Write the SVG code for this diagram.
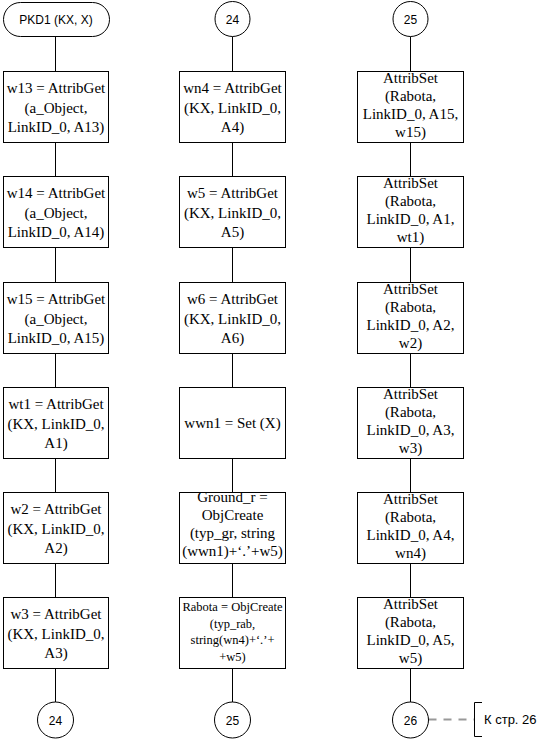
<svg xmlns="http://www.w3.org/2000/svg" width="544" height="740" viewBox="0 0 544 740">
<style>
.b{fill:#fff;stroke:#000;stroke-width:1}
.c{fill:none;stroke:#000;stroke-width:1}
.t{font-family:"Liberation Serif","Times New Roman",serif;font-size:15px;fill:#000;text-anchor:middle}
.s{font-family:"Liberation Serif","Times New Roman",serif;font-size:12.5px;fill:#000;text-anchor:middle}
.a{font-family:"Liberation Sans",Arial,sans-serif;font-size:12px;fill:#000;text-anchor:middle}
.d{fill:none;stroke:#999;stroke-width:2;stroke-dasharray:8 7}
</style>
<rect width="544" height="740" fill="#fff"/>
<g id="connectors">
<path class="c" d="M55.5 36V71.5M55.5 142.5V176.5M55.5 247.5V282.5M55.5 353.5V387.5M55.5 458.5V492.5M55.5 563.5V597.5M55.5 668.5V702"/>
<path class="c" d="M232.5 36.5V71.5M232.5 142.5V176.5M232.5 247.5V282.5M232.5 353.5V387.5M232.5 458.5V492.5M232.5 563.5V597.5M232.5 668.5V702"/>
<path class="c" d="M410.5 36.5V71.5M410.5 142.5V176.5M410.5 247.5V282.5M410.5 353.5V387.5M410.5 458.5V492.5M410.5 563.5V597.5M410.5 668.5V702"/>
<path class="d" d="M428.5 719.5H474"/>
<path class="c" d="M482 702.5H474.5V736.5H482"/>
</g>
<g id="start"><rect class="b" x="3.5" y="2.5" width="106" height="34" rx="17"/><text class="a" x="56" y="23.5">PKD1 (KX, X)</text></g>
<g id="c24top"><circle class="b" cx="232.5" cy="19" r="17.5"/><text class="a" x="232.5" y="23.5">24</text></g>
<g id="c25top"><circle class="b" cx="410.5" cy="19" r="17.5"/><text class="a" x="410.5" y="23.5">25</text></g>

<g id="w13"><rect class="b" x="3.5" y="71.5" width="105" height="71"/><text class="t"><tspan x="56" y="93">w13 = AttribGet</tspan><tspan x="56" y="112.5">(a_Object,</tspan><tspan x="56" y="132">LinkID_0, A13)</tspan></text></g>
<g id="w14"><rect class="b" x="3.5" y="176.5" width="105" height="71"/><text class="t"><tspan x="56" y="198">w14 = AttribGet</tspan><tspan x="56" y="217.5">(a_Object,</tspan><tspan x="56" y="237">LinkID_0, A14)</tspan></text></g>
<g id="w15"><rect class="b" x="3.5" y="282.5" width="105" height="71"/><text class="t"><tspan x="56" y="304">w15 = AttribGet</tspan><tspan x="56" y="323.5">(a_Object,</tspan><tspan x="56" y="343">LinkID_0, A15)</tspan></text></g>
<g id="wt1"><rect class="b" x="3.5" y="387.5" width="105" height="71"/><text class="t"><tspan x="56" y="409">wt1 = AttribGet</tspan><tspan x="56" y="428.5">(KX, LinkID_0,</tspan><tspan x="56" y="448">A1)</tspan></text></g>
<g id="w2"><rect class="b" x="3.5" y="492.5" width="105" height="71"/><text class="t"><tspan x="56" y="514">w2 = AttribGet</tspan><tspan x="56" y="533.5">(KX, LinkID_0,</tspan><tspan x="56" y="553">A2)</tspan></text></g>
<g id="w3"><rect class="b" x="3.5" y="597.5" width="105" height="71"/><text class="t"><tspan x="56" y="619">w3 = AttribGet</tspan><tspan x="56" y="638.5">(KX, LinkID_0,</tspan><tspan x="56" y="658">A3)</tspan></text></g>
<g id="c24bot"><circle class="b" cx="55.5" cy="720" r="18"/><text class="a" x="55.5" y="724.5">24</text></g>

<g id="wn4"><rect class="b" x="179.5" y="71.5" width="106" height="71"/><text class="t"><tspan x="232.5" y="93">wn4 = AttribGet</tspan><tspan x="232.5" y="112.5">(KX, LinkID_0,</tspan><tspan x="232.5" y="132">A4)</tspan></text></g>
<g id="w5"><rect class="b" x="179.5" y="176.5" width="106" height="71"/><text class="t"><tspan x="232.5" y="198">w5 = AttribGet</tspan><tspan x="232.5" y="217.5">(KX, LinkID_0,</tspan><tspan x="232.5" y="237">A5)</tspan></text></g>
<g id="w6"><rect class="b" x="179.5" y="282.5" width="106" height="71"/><text class="t"><tspan x="232.5" y="304">w6 = AttribGet</tspan><tspan x="232.5" y="323.5">(KX, LinkID_0,</tspan><tspan x="232.5" y="343">A6)</tspan></text></g>
<g id="wwn1"><rect class="b" x="179.5" y="387.5" width="106" height="71"/><text class="t" x="232.5" y="428">wwn1 = Set (X)</text></g>
<g id="ground"><rect class="b" x="179.5" y="492.5" width="106" height="71"/><text class="t"><tspan x="232.5" y="502">Ground_r =</tspan><tspan x="232.5" y="520">ObjCreate</tspan><tspan x="232.5" y="538">(typ_gr, string</tspan><tspan x="232.5" y="556">(wwn1)+‘.’+w5)</tspan></text></g>
<g id="rabota"><rect class="b" x="179.5" y="597.5" width="106" height="71"/><text class="s"><tspan x="232.5" y="611">Rabota = ObjCreate</tspan><tspan x="232.5" y="627.5">(typ_rab,</tspan><tspan x="232.5" y="644">string(wn4)+‘.’+</tspan><tspan x="232.5" y="660.5">+w5)</tspan></text></g>
<g id="c25bot"><circle class="b" cx="232.5" cy="720" r="18"/><text class="a" x="232.5" y="724.5">25</text></g>

<g id="set15"><rect class="b" x="357.5" y="71.5" width="106" height="71"/><text class="t"><tspan x="410.5" y="83">AttribSet</tspan><tspan x="410.5" y="101">(Rabota,</tspan><tspan x="410.5" y="119">LinkID_0, A15,</tspan><tspan x="410.5" y="137">w15)</tspan></text></g>
<g id="set1"><rect class="b" x="357.5" y="176.5" width="106" height="71"/><text class="t"><tspan x="410.5" y="188">AttribSet</tspan><tspan x="410.5" y="206">(Rabota,</tspan><tspan x="410.5" y="224">LinkID_0, A1,</tspan><tspan x="410.5" y="242">wt1)</tspan></text></g>
<g id="set2"><rect class="b" x="357.5" y="282.5" width="106" height="71"/><text class="t"><tspan x="410.5" y="294">AttribSet</tspan><tspan x="410.5" y="312">(Rabota,</tspan><tspan x="410.5" y="330">LinkID_0, A2,</tspan><tspan x="410.5" y="348">w2)</tspan></text></g>
<g id="set3"><rect class="b" x="357.5" y="387.5" width="106" height="71"/><text class="t"><tspan x="410.5" y="399">AttribSet</tspan><tspan x="410.5" y="417">(Rabota,</tspan><tspan x="410.5" y="435">LinkID_0, A3,</tspan><tspan x="410.5" y="453">w3)</tspan></text></g>
<g id="set4"><rect class="b" x="357.5" y="492.5" width="106" height="71"/><text class="t"><tspan x="410.5" y="504">AttribSet</tspan><tspan x="410.5" y="522">(Rabota,</tspan><tspan x="410.5" y="540">LinkID_0, A4,</tspan><tspan x="410.5" y="558">wn4)</tspan></text></g>
<g id="set5"><rect class="b" x="357.5" y="597.5" width="106" height="71"/><text class="t"><tspan x="410.5" y="609">AttribSet</tspan><tspan x="410.5" y="627">(Rabota,</tspan><tspan x="410.5" y="645">LinkID_0, A5,</tspan><tspan x="410.5" y="663">w5)</tspan></text></g>
<g id="c26bot"><circle class="b" cx="410.5" cy="720" r="18"/><text class="a" x="410.5" y="724.5">26</text></g>
<g id="note"><text x="484" y="724" style="font-family:'Liberation Sans',Arial,sans-serif;font-size:13px;fill:#000">К стр. 26</text></g>
</svg>
